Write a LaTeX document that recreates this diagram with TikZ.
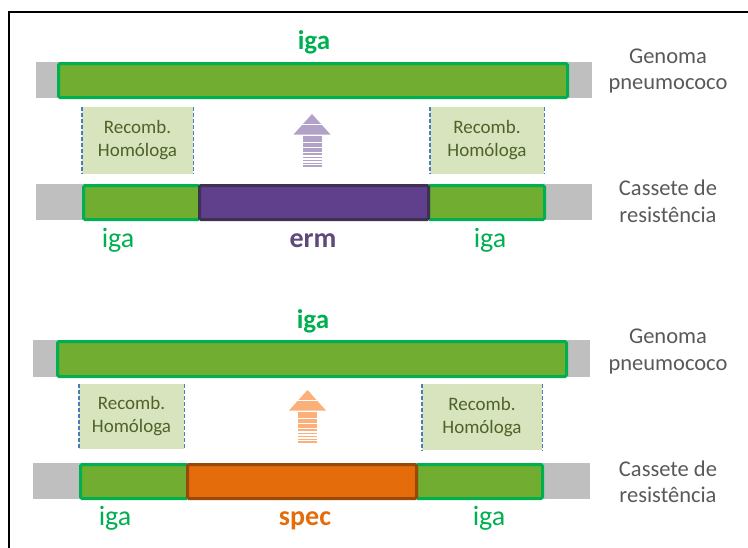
\documentclass[tikz,border=0pt]{standalone}
\usepackage{fontspec}
\setmainfont{Carlito}
\definecolor{bargray}{RGB}{191,191,191}
\definecolor{genefill}{RGB}{112,173,48}
\definecolor{geneline}{RGB}{0,176,80}
\definecolor{ermfill}{RGB}{96,64,140}
\definecolor{ermline}{RGB}{63,49,81}
\definecolor{ermtext}{RGB}{95,73,122}
\definecolor{specfill}{RGB}{228,108,10}
\definecolor{specline}{RGB}{152,72,7}
\definecolor{recfill}{RGB}{215,228,189}
\definecolor{rectext}{RGB}{79,98,40}
\definecolor{recline}{RGB}{74,126,187}
\definecolor{arrowpurple}{RGB}{179,162,199}
\definecolor{arroworange}{RGB}{250,176,120}
\definecolor{labelgray}{RGB}{89,89,89}
\begin{document}
\begin{tikzpicture}[x=1pt,y=-1pt,
  backbone/.style={fill=bargray},
  gene/.style={fill=genefill,draw=geneline,line width=3pt,rounded corners=1.5pt},
  ermbox/.style={fill=ermfill,draw=ermline,line width=3pt,rounded corners=1.5pt},
  specbox/.style={fill=specfill,draw=specline,line width=3pt,rounded corners=1.5pt},
  recomb/.style={fill=recfill,text=rectext,inner sep=0pt,align=center,
    font=\fontsize{19}{23}\selectfont},
  recedge/.style={draw=recline,line width=1.4pt,dash pattern=on 4pt off 2pt},
  genelabel/.style={text=geneline,anchor=base,font=\fontsize{28}{30}\selectfont},
  genetitle/.style={text=geneline,anchor=base,font=\fontsize{27}{30}\selectfont\bfseries},
  sidelabel/.style={text=labelgray,anchor=base,font=\fontsize{22.5}{27}\selectfont},
  stripedarrow/.pic={
    \fill[pic actions] (0,0) -- (18.5,20.5) -- (-18.5,20.5) -- cycle;
    \fill[white] (-18.5,10.2) rectangle (18.5,11);
    \foreach \a/\b in {22/27.5,29/32.5,34/37.5,39/41,42.5/44,45.5/47,48.5/50,51/53}
      \fill[pic actions] (-9.5,\a) rectangle (9.5,\b);
  }]
\useasboundingbox (0,0) rectangle (748,547);
% outer frame
\draw[line width=2pt] (9,12) rectangle (800,600);

% ---------------- upper construct: erm cassette ----------------
\fill[backbone] (36,62) rectangle (592,98);
\draw[gene] (58.5,63.5) rectangle (567.5,97.5);
\node[genetitle] (igaA) at (314,49) {iga};

\node[recomb,minimum width=111pt,minimum height=67pt] (recA1) at (137.5,140.5) {Recomb.\\Homóloga};
\node[recomb,minimum width=114pt,minimum height=67pt] (recA2) at (487,140.5) {Recomb.\\Homóloga};
\foreach \r in {recA1,recA2}{
  \draw[recedge] (\r.north west) -- (\r.south west);
  \draw[recedge] (\r.north east) -- (\r.south east);
}
\pic[fill=arrowpurple] (arrA) at (312,114) {stripedarrow};

\fill[backbone] (36,184) rectangle (592,220);
\draw[gene] (83.5,185.5) rectangle (199.5,219.5);
\draw[gene] (428.5,185.5) rectangle (544.5,219.5);
\draw[ermbox] (199.5,185.5) rectangle (428.5,219.5);

\node[genelabel] (igaA1) at (118,247) {iga};
\node[genelabel,text=ermtext,font=\fontsize{28}{30}\selectfont\bfseries] (ermA) at (313,247) {erm};
\node[genelabel] (igaA2) at (490,247) {iga};

\node[sidelabel] (genA1) at (668,63) {Genoma};
\node[sidelabel] (genA2) at (668,89) {pneumococo};
\node[sidelabel] (casA1) at (668,195) {Cassete de};
\node[sidelabel] (casA2) at (668,222) {resistência};

% ---------------- lower construct: spec cassette ----------------
\fill[backbone] (33,340) rectangle (590,377);
\draw[gene] (57.5,341.5) rectangle (566.5,376.5);
\node[genetitle] (igaB) at (313,328) {iga};

\node[recomb,minimum width=105pt,minimum height=65pt] (recB1) at (131.5,416.5) {Recomb.\\Homóloga};
\node[recomb,minimum width=120pt,minimum height=66pt] (recB2) at (482,417) {Recomb.\\Homóloga};
\foreach \r in {recB1,recB2}{
  \draw[recedge] (\r.north west) -- (\r.south west);
  \draw[recedge] (\r.north east) -- (\r.south east);
}
\pic[fill=arroworange] (arrB) at (307.5,390) {stripedarrow};

\fill[backbone] (33,463) rectangle (590,499);
\draw[gene] (80.5,464.5) rectangle (187.5,498.5);
\draw[gene] (416.5,464.5) rectangle (542.5,498.5);
\draw[specbox] (187.5,464.5) rectangle (416.5,498.5);

\node[genelabel] (igaB1) at (115,525) {iga};
\node[genelabel,text=specfill,font=\fontsize{28}{30}\selectfont\bfseries] (specB) at (305,525) {spec};
\node[genelabel] (igaB2) at (489,525) {iga};

\node[sidelabel] (genB1) at (668,343) {Genoma};
\node[sidelabel] (genB2) at (668,370) {pneumococo};
\node[sidelabel] (casB1) at (668,476) {Cassete de};
\node[sidelabel] (casB2) at (668,502) {resistência};
\end{tikzpicture}
\end{document}
